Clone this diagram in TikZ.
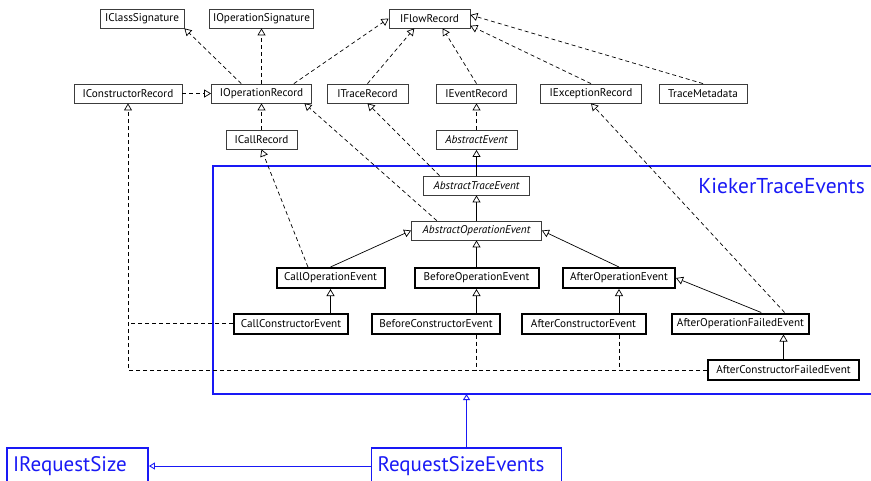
\documentclass[tikz,border=0pt]{standalone}
\usepackage{fontspec}
\setmainfont{PT Sans}
\usetikzlibrary{arrows.meta,calc}
\definecolor{umlblue}{RGB}{25,25,245}
\definecolor{boxgray}{RGB}{60,60,60}
\tikzset{
  cls/.style={draw=boxgray, line width=0.8pt, inner sep=0pt, minimum height=19pt,
    font=\fontsize{11.2}{13}\selectfont, text=black, fill=white},
  abscls/.style={cls, font=\fontsize{11.2}{13}\selectfont\itshape},
  evt/.style={cls, draw=black, line width=2pt, minimum height=20pt},
  gen/.style={-{Triangle[open,length=7pt,width=8pt]}, line width=0.7pt},
  real/.style={gen, dash pattern=on 4pt off 3pt},
  dep/.style={line width=0.7pt, dash pattern=on 4pt off 3pt},
  pkgcls/.style={draw=umlblue, line width=1.8pt, text=umlblue, inner ysep=0pt,
    inner xsep=6pt, minimum height=36pt, align=left,
    font=\fontsize{21}{25}\selectfont},
  bluegen/.style={draw=umlblue, line width=0.9pt, -{Triangle[open,length=6pt,width=7pt]}},
}
\begin{document}
\begin{tikzpicture}[x=1pt,y=-1pt]
\useasboundingbox (0,0) rectangle (871,480);

% package frame
\draw[umlblue, line width=2pt] (880,166) -- (213,166) -- (213,394) -- (880,394);
\coordinate (pkgsw) at (213,394);
\node[anchor=east, text=umlblue, font=\fontsize{21.5}{25}\selectfont, inner sep=0pt]
  (pkglabel) at (865,186) {KiekerTraceEvents};

% interfaces
\node[cls, minimum width=84pt]  (ics)   at (142,18.5)   {IClassSignature};
\node[cls, minimum width=104pt] (ios)   at (261.5,18.5) {IOperationSignature};
\node[cls, minimum width=81pt]  (ifr)   at (429.5,18.5) {IFlowRecord};
\node[cls, minimum width=108pt] (icr)   at (128,93.5)   {IConstructorRecord};
\node[cls, minimum width=100pt] (ior)   at (261.5,93.5) {IOperationRecord};
\node[cls, minimum width=81pt]  (itr)   at (367.5,93.5) {ITraceRecord};
\node[cls, minimum width=80pt]  (ier)   at (476.5,93.5) {IEventRecord};
\node[cls, minimum width=101pt] (iexr)  at (591,93.5)   {IExceptionRecord};
\node[cls, minimum width=88pt]  (tm)    at (703,93.5)   {TraceMetadata};
\node[cls, minimum width=71pt]  (icall) at (261.5,139.5){ICallRecord};

% abstract classes
\node[abscls, minimum width=81pt]  (ae)  at (476.5,140)   {AbstractEvent};
\node[abscls, minimum width=106pt] (ate) at (476.5,185.5) {AbstractTraceEvent};
\node[abscls, minimum width=130pt] (aoe) at (476.5,230.5) {AbstractOperationEvent};

% concrete events
\node[evt, minimum width=108pt] (cop)   at (330.5,278)   {CallOperationEvent};
\node[evt, minimum width=124pt] (bop)   at (476.5,278)   {BeforeOperationEvent};
\node[evt, minimum width=112pt] (aop)   at (619,278)     {AfterOperationEvent};
\node[evt, minimum width=114pt] (ccons) at (291,323.5)   {CallConstructorEvent};
\node[evt, minimum width=128pt] (bcons) at (436,323.5)   {BeforeConstructorEvent};
\node[evt, minimum width=124pt] (acons) at (583.5,323.5) {AfterConstructorEvent};
\node[evt, minimum width=137pt] (aofe)  at (740.5,323.5) {AfterOperationFailedEvent};
\node[evt, minimum width=151pt] (acfe)  at (783.5,370)   {AfterConstructorFailedEvent};

% request size package
\node[pkgcls, text width=178pt] (rse) at (466.5,466) {\raisebox{2pt}{RequestSizeEvents}};
\node[pkgcls, text width=129pt] (irs) at (77.5,466)  {\raisebox{2pt}{IRequestSize}};

% realizations among the record interfaces
\draw[real] (ior.154) -- (ics.south east);
\draw[real] (ior.north) -- (ios.south);
\draw[real] (ior.17) -- (ifr.west);
\draw[real] (itr.north) -- (ifr.213);
\draw[real] (ier.north) -- (ifr.323);
\draw[real] (iexr.north) -- (ifr.350);
\draw[real] (tm.north) -- (ifr.5);
\draw[real] (icr.east) -- (ior.west);
\draw[real] (icall.north) -- (ior.south);

% realizations from the event classes
\draw[real] (ae.north) -- (ier.south);
\draw[real] (ate.165) -- (itr.south);
\draw[real] (aoe.166) -- (ior.347);
\draw[real] (cop.154) -- (icall.south);
\draw[real] (aofe.14) -- (iexr.south);

% constructor events realize IConstructorRecord
\draw[real] (acfe.west) -- (acfe.west -| icr.south) -- (icr.south);
\draw[dep] (ccons.west) -- (ccons.west -| icr.south);
\draw[dep] (bop.south |- bcons.south) -- (bop.south |- acfe.west);
\draw[dep] (aop.south |- acons.south) -- (aop.south |- acfe.west);

% generalizations
\draw[gen] (ate.north) -- (ae.south);
\draw[gen] (aoe.north) -- (ate.south);
\draw[gen] (bop.north) -- (aoe.south);
\draw[gen] (cop.north) -- (aoe.west);
\draw[gen] (aop.north) -- (aoe.east);
\draw[gen] (cop.south |- ccons.north) -- (cop.south);
\draw[gen] (bop.south |- bcons.north) -- (bop.south);
\draw[gen] (aop.south |- acons.north) -- (aop.south);
\draw[gen] (aofe.28) -- (aop.east);
\draw[gen] (acfe.north) -- (acfe.north |- aofe.south);

% request size relations
\draw[bluegen] (rse.north) -- (rse.north |- pkgsw);
\draw[bluegen] (rse.west) -- (irs.east);
\end{tikzpicture}
\end{document}
